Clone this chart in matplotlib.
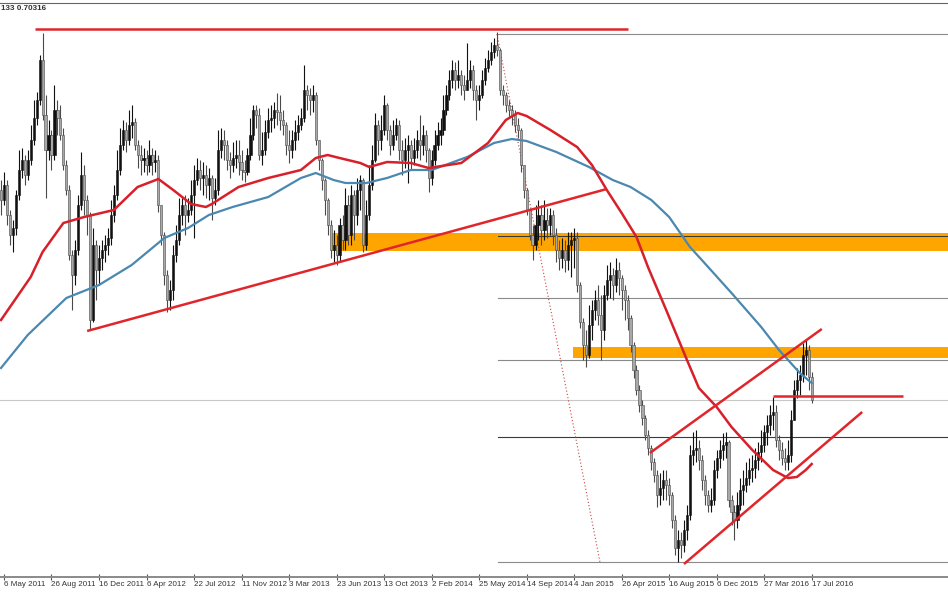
import numpy as np
import matplotlib
matplotlib.use("Agg")
import matplotlib.pyplot as plt

# NZD/USD weekly candles, prices in pips (x 1e-4), open of each bar = previous close
open0 = 8050
close_pips = [
    8000, 8075, 7925, 7825, 7860, 8025, 8150, 8200, 8125, 8200,
    8300, 8410, 8500, 8700, 8425, 8250, 8325, 8225, 8450, 8410,
    8325, 8175, 8050, 7725, 7625, 7750, 7975, 8125, 8000, 7925,
    7400, 7775, 7650, 7710, 7750, 7775, 7810, 7925, 8025, 8150,
    8275, 8350, 8300, 8375, 8390, 8275, 8225, 8200, 8210, 8175,
    8225, 8190, 8200, 7975, 7825, 7625, 7500, 7550, 7725, 7800,
    7925, 7975, 7925, 7950, 8025, 8100, 8150, 8110, 8125, 8075,
    8110, 8010, 8050, 8250, 8300, 8275, 8200, 8175, 8210, 8225,
    8190, 8150, 8140, 8225, 8325, 8450, 8425, 8225, 8250, 8340,
    8400, 8410, 8450, 8440, 8400, 8375, 8275, 8250, 8300, 8340,
    8375, 8410, 8550, 8525, 8500, 8525, 8300, 8200, 8100, 8000,
    7875, 7750, 7775, 7725, 7875, 7800, 7975, 7825, 8025, 7925,
    8050, 8100, 7775, 7925, 8075, 8200, 8375, 8300, 8350, 8475,
    8350, 8275, 8325, 8375, 8250, 8200, 8250, 8275, 8210, 8250,
    8300, 8275, 8325, 8250, 8110, 8200, 8275, 8325, 8350, 8450,
    8525, 8600, 8650, 8600, 8625, 8575, 8550, 8600, 8650, 8550,
    8500, 8525, 8600, 8660, 8700, 8740, 8775, 8750, 8550, 8525,
    8475, 8450, 8425, 8375, 8350, 8175, 8050, 7950, 7825, 7775,
    7875, 7925, 7850, 7900, 7875, 7925, 7825, 7750, 7710, 7750,
    7700, 7775, 7800, 7810, 7575, 7390, 7275, 7225, 7375, 7450,
    7500, 7425, 7350, 7525, 7600, 7625, 7575, 7650, 7610, 7550,
    7500, 7410, 7275, 7150, 7050, 6975, 6910, 6825, 6760, 6690,
    6625, 6525, 6560, 6600, 6575, 6525, 6400, 6260, 6300, 6275,
    6350, 6425, 6725, 6750, 6760, 6700, 6600, 6525, 6475, 6500,
    6650, 6710, 6750, 6775, 6790, 6500, 6440, 6400, 6475, 6550,
    6575, 6610, 6650, 6660, 6700, 6740, 6775, 6840, 6875, 6925,
    6940, 6800, 6750, 6710, 6690, 6725, 6900, 7050, 7100, 7125,
    7225, 7250, 7115, 7000,
]
high_pips = [
    8100, 8140, 8100, 7950, 7900, 8050, 8250, 8260, 8225, 8250,
    8375, 8500, 8540, 8725, 8835, 8525, 8400, 8350, 8575, 8500,
    8475, 8360, 8200, 8075, 7750, 7800, 8025, 8240, 8175, 8025,
    7940, 7860, 7800, 7775, 7800, 7825, 7860, 8000, 8075, 8250,
    8360, 8400, 8390, 8450, 8475, 8410, 8300, 8275, 8260, 8250,
    8300, 8260, 8250, 8225, 7975, 7840, 7650, 7600, 7775, 7875,
    8010, 8010, 8025, 8010, 8100, 8175, 8210, 8200, 8190, 8175,
    8160, 8125, 8110, 8350, 8360, 8350, 8300, 8240, 8290, 8300,
    8300, 8250, 8200, 8260, 8410, 8475, 8475, 8460, 8340, 8400,
    8460, 8475, 8490, 8535, 8525, 8450, 8390, 8350, 8350, 8400,
    8425, 8460, 8675, 8575, 8560, 8575, 8540, 8300, 8210, 8110,
    8010, 7900, 7850, 7825, 7910, 7925, 8060, 8025, 8075, 8050,
    8110, 8125, 8110, 8000, 8175, 8275, 8435, 8400, 8425, 8525,
    8485, 8375, 8400, 8410, 8400, 8300, 8310, 8325, 8300, 8310,
    8350, 8425, 8375, 8350, 8260, 8250, 8350, 8390, 8410, 8525,
    8575, 8650, 8700, 8690, 8700, 8650, 8625, 8785, 8700, 8675,
    8575, 8575, 8650, 8710, 8750, 8790, 8810, 8840, 8760, 8575,
    8540, 8500, 8475, 8450, 8410, 8360, 8175, 8060, 7960, 7875,
    7975, 8000, 7975, 8000, 7960, 7960, 7950, 7860, 7800, 7810,
    7800, 7840, 7840, 7860, 7840, 7590, 7410, 7350, 7475, 7500,
    7550, 7575, 7525, 7575, 7675, 7690, 7660, 7710, 7690, 7625,
    7575, 7525, 7425, 7290, 7175, 7075, 7000, 6925, 6850, 6775,
    6710, 6650, 6635, 6650, 6650, 6610, 6540, 6425, 6350, 6340,
    6400, 6475, 6775, 6840, 6850, 6800, 6725, 6625, 6550, 6560,
    6700, 6750, 6800, 6835, 6840, 6800, 6525, 6475, 6540, 6610,
    6650, 6690, 6710, 6725, 6760, 6790, 6850, 6875, 6925, 6975,
    7015, 6975, 6825, 6790, 6760, 6800, 6950, 7100, 7160, 7175,
    7285, 7300, 7275, 7140,
]
low_pips = [
    7925, 7975, 7875, 7775, 7740, 7825, 8000, 8110, 8075, 8100,
    8175, 8275, 8375, 8475, 8400, 8010, 8200, 8150, 8200, 8325,
    8300, 8150, 8025, 7700, 7450, 7575, 7725, 7950, 7925, 7825,
    7350, 7390, 7500, 7575, 7650, 7690, 7725, 7775, 7890, 8000,
    8125, 8250, 8240, 8275, 8310, 8250, 8160, 8125, 8140, 8125,
    8140, 8125, 8140, 7940, 7775, 7575, 7440, 7450, 7500, 7690,
    7775, 7875, 7825, 7890, 7925, 7810, 8075, 8050, 8025, 8010,
    8000, 7900, 7975, 8025, 8210, 8200, 8150, 8110, 8140, 8160,
    8125, 8100, 8090, 8125, 8200, 8300, 8360, 8200, 8175, 8225,
    8310, 8340, 8360, 8375, 8350, 8325, 8225, 8185, 8210, 8250,
    8300, 8350, 8390, 8450, 8425, 8440, 8275, 8150, 8050, 7925,
    7825, 7710, 7690, 7675, 7690, 7750, 7750, 7775, 7775, 7800,
    7875, 7950, 7740, 7750, 7900, 8050, 8190, 8225, 8250, 8325,
    8300, 8225, 8250, 8300, 8200, 8125, 8160, 8085, 8150, 8175,
    8210, 8200, 8225, 8190, 8040, 8075, 8175, 8250, 8275, 8325,
    8425, 8500, 8560, 8550, 8560, 8525, 8500, 8550, 8560, 8500,
    8400, 8450, 8510, 8575, 8640, 8675, 8710, 8720, 8525, 8475,
    8440, 8410, 8375, 8340, 8310, 8140, 8010, 7925, 7800, 7700,
    7750, 7800, 7775, 7800, 7810, 7825, 7775, 7690, 7650, 7660,
    7640, 7650, 7615, 7660, 7540, 7360, 7200, 7165, 7210, 7300,
    7400, 7375, 7200, 7300, 7500, 7510, 7500, 7540, 7525, 7450,
    7400, 7350, 7240, 7110, 7025, 6940, 6875, 6800, 6725, 6650,
    6590, 6465, 6475, 6500, 6500, 6475, 6360, 6225, 6190, 6210,
    6240, 6300, 6400, 6675, 6690, 6650, 6550, 6475, 6440, 6440,
    6475, 6610, 6660, 6700, 6710, 6465, 6375, 6300, 6360, 6450,
    6475, 6540, 6575, 6590, 6610, 6650, 6690, 6740, 6775, 6825,
    6850, 6765, 6700, 6675, 6650, 6650, 6690, 6900, 7010, 7025,
    7090, 7125, 7050, 6985,
]

# moving averages: (bar index, value in pips)
ma_red_bars = [0, 10, 14, 21, 28, 38, 46, 53, 58, 64, 69, 71, 80, 90, 101, 106, 110, 114,
               121, 124, 130, 138, 144, 155, 164, 170, 174, 177, 185, 194, 199, 204, 209,
               214, 218, 224, 231, 235, 241, 246, 253, 260, 265, 268, 271, 273]
ma_red_pips = [7400, 7615, 7740, 7885, 7915, 7950, 8065, 8105, 8050, 7980, 7965, 7980, 8065,
               8110, 8150, 8210, 8225, 8210, 8185, 8165, 8190, 8185, 8160, 8185, 8285, 8400,
               8435, 8420, 8350, 8265, 8175, 8050, 7935, 7815, 7660, 7450, 7200, 7060, 6965,
               6865, 6750, 6650, 6610, 6615, 6650, 6680]
ma_blue_bars = [0, 9, 22, 33, 44, 55, 63, 70, 78, 90, 101, 106, 112, 116, 123, 130, 138, 145,
                157, 166, 172, 177, 187, 198, 206, 212, 219, 225, 232, 236, 246, 256, 262,
                269, 273]
ma_blue_pips = [7160, 7325, 7510, 7575, 7675, 7810, 7860, 7925, 7965, 8015, 8110, 8135, 8100,
                8085, 8085, 8110, 8150, 8150, 8215, 8285, 8305, 8295, 8240, 8165, 8100, 8065,
                8000, 7915, 7765, 7700, 7535, 7365, 7250, 7135, 7085]

# drawn objects
fib_high, fib_low = 0.8830, 0.6190
fib_start, fib_end_bar = 167.5, 201.7
fib_ratios = [0.0, 0.236, 0.382, 0.5, 0.618, 1.0]
zones = [(111.1, 0.7745, 0.7835), (192.6, 0.7210, 0.7265)]
red_lines = [
    ((11.4, 0.8855), (211.0, 0.8855)),
    ((29.0, 0.7345), (204.0, 0.8055)),
    ((218.5, 0.6735), (276.4, 0.7355)),
    ((230.0, 0.6180), (290.0, 0.6940)),
    ((260.0, 0.7020), (303.7, 0.7020)),
]

tick_labels = ["6 May 2011", "26 Aug 2011", "16 Dec 2011", "6 Apr 2012", "22 Jul 2012",
               "11 Nov 2012", "3 Mar 2013", "23 Jun 2013", "13 Oct 2013", "2 Feb 2014",
               "25 May 2014", "14 Sep 2014", "4 Jan 2015", "26 Apr 2015", "16 Aug 2015",
               "6 Dec 2015", "27 Mar 2016", "17 Jul 2016"]
header = "133 0.70316"

close = np.array(close_pips) / 1e4
high = np.array(high_pips) / 1e4
low = np.array(low_pips) / 1e4
opens = np.concatenate([[open0 / 1e4], close[:-1]])
bars = np.arange(len(close))

fig = plt.figure(figsize=(9.48, 5.93), dpi=100)
ax = fig.add_axes([0, 16 / 593, 1, 574 / 593])
x_right = 318.9
ax.set_xlim(-0.34, x_right)
ax.set_ylim(0.6115, 0.8985)

# support / resistance zones
for start, lo, hi in zones:
    ax.fill_between([start, x_right], lo, hi, color="#ffa500", lw=0, zorder=1)

# fibonacci retracement
for r in fib_ratios:
    lvl = fib_low + r * (fib_high - fib_low)
    col = "#3a3a3a" if r in (0.236, 0.618) else "#8a8a8a"
    ax.plot([fib_start, x_right], [lvl, lvl], color=col, lw=0.8, zorder=1.5)
ax.plot([167, fib_end_bar], [fib_high, fib_low], color="#d04040", lw=0.8,
        ls=(0, (1, 2)), zorder=1.5)

# last price line
ax.axhline(close[-1], color="#c8c8c8", lw=0.8, zorder=1.4)

# candles
up = close <= opens
for mask, face, edge in [(up, "#a8a8a8", "#4a4a4a"), (~up, "#111111", "#111111")]:
    ax.vlines(bars[mask], low[mask], high[mask], color=edge, lw=0.8, zorder=3)
    bottom = np.minimum(opens, close)[mask]
    height = np.maximum(np.abs(close - opens)[mask], 0.0004)
    ax.bar(bars[mask], height, bottom=bottom, width=0.72, color=face,
           edgecolor=edge, lw=0.4, zorder=3.1)

# moving averages
ax.plot(ma_blue_bars, np.array(ma_blue_pips) / 1e4, color="#4a88b0", lw=1.6, zorder=4)
ax.plot(ma_red_bars, np.array(ma_red_pips) / 1e4, color="#d8202a", lw=1.8, zorder=4.1)

# hand-drawn trend lines
for (x0, y0), (x1, y1) in red_lines:
    ax.plot([x0, x1], [y0, y1], color="#e0262a", lw=1.8, zorder=5,
            solid_capstyle="butt")

# axes styling
ax.set_xticks(np.arange(len(tick_labels)) * 16 + 1)
ax.set_xticklabels(tick_labels, ha="left", family="Liberation Sans")
ax.tick_params(axis="x", direction="inout", length=4, width=0.8, color="#555555",
               labelsize=5.8, labelcolor="#333333", pad=1)
ax.set_yticks([])
for side in ("left", "right"):
    ax.spines[side].set_visible(False)
ax.spines["top"].set_color("#666666")
ax.spines["top"].set_linewidth(0.8)
ax.spines["bottom"].set_color("#8a8a8a")
ax.spines["bottom"].set_linewidth(1.4)

fig.text(1 / 948, 1 - 8 / 593, header, ha="left", va="center",
         fontsize=5.8, color="#333333", fontweight="bold", family="Liberation Sans")

fig.savefig("out.png", dpi=100)
